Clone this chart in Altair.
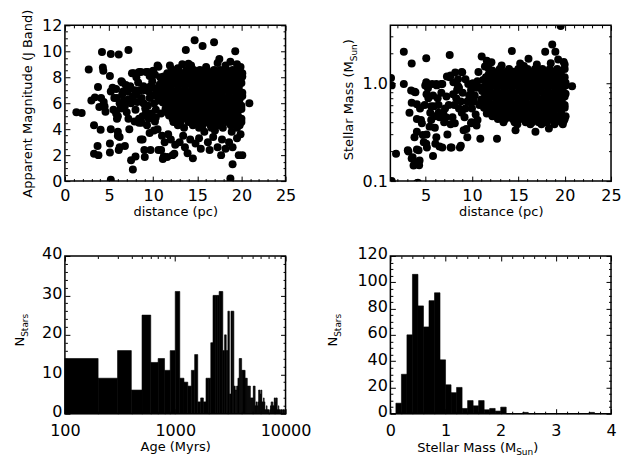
import altair as alt
import pandas as pd

FONT = "DejaVu Sans"

# ---------------- data ----------------
# Top-left: distance (pc) vs apparent J magnitude
tl_sparse = [
    (1.3, 5.3), (1.9, 5.25), (2.7, 8.6), (3.0, 6.2), (3.4, 6.45), (3.3, 4.3), (3.3, 2.1), (3.8, 2.0),
    (3.7, 2.7), (3.75, 7.25), (3.9, 5.7), (4.05, 3.95), (4.2, 9.95), (4.3, 8.75), (4.35, 8.5), (4.4, 6.1),
    (4.6, 5.35), (4.1, 6.4), (4.5, 5.75), (5.1, 8.1), (5.2, 6.9), (5.2, 4.0), (5.1, 2.9), (5.1, 2.2),
    (5.2, 0.1), (5.2, 9.8), (5.4, 7.2), (5.6, 6.4), (5.8, 5.2), (5.9, 6.4), (5.9, 4.8), (6.0, 3.5),
    (6.0, 3.8), (6.1, 2.4), (6.1, 9.75), (6.2, 3.4), (6.2, 2.6), (6.3, 5.6), (6.4, 7.7), (6.5, 7.6),
    (6.6, 6.9), (6.8, 5.8), (6.8, 2.7), (7.1, 6.9), (7.2, 4.8), (7.2, 10.1), (7.3, 4.0), (7.5, 1.6),
    (7.6, 8.3), (7.7, 0.9), (7.8, 8.3), (8.0, 1.9), (8.1, 6.7), (8.2, 6.1), (8.4, 4.5), (8.4, 8.4),
    (8.4, 4.8), (8.6, 8.4), (8.6, 3.2), (8.8, 3.2), (8.9, 7.3), (9.0, 2.4), (9.05, 1.85), (9.2, 5.3),
    (9.2, 8.4), (9.4, 8.4), (9.4, 5.8), (9.5, 6.9), (9.6, 3.7), (9.7, 2.4), (9.9, 7.7), (10.1, 3.9),
    (10.1, 6.0), (10.5, 8.9), (10.6, 2.4), (10.6, 8.8), (10.8, 8.0), (10.9, 2.4), (11.1, 1.7), (11.2, 1.9),
    (11.5, 6.6), (11.6, 1.85), (12.1, 8.6), (12.2, 2.0), (12.4, 2.1), (12.8, 8.7), (13.7, 10.1), (14.0, 9.05),
    (13.9, 2.15), (14.5, 1.75), (14.7, 10.85), (15.6, 10.4), (16.9, 10.7), (15.4, 2.5), (16.4, 2.4), (17.5, 9.4),
    (17.7, 2.0), (18.75, 9.2), (19.0, 1.3), (18.75, 0.2), (19.3, 10.0), (19.7, 2.0), (20.1, 2.0), (19.9, 8.8),
    (20.9, 6.0),
    (5.5, 5.5), (6.0, 5.0), (6.7, 6.2), (7.0, 5.3), (7.4, 7.3), (7.5, 6.0), (7.9, 7.0), (8.0, 5.5),
    (8.3, 7.6), (8.7, 6.4), (8.8, 5.0), (9.0, 7.0), (9.3, 4.3), (9.6, 6.4), (9.8, 5.2), (10.0, 7.2),
    (10.2, 4.6), (10.3, 5.5), (10.4, 6.6), (10.7, 7.4), (10.9, 5.2), (10.5, 4.0), (11.0, 3.5), (11.3, 3.0),
    (11.7, 3.6), (12.0, 3.2), (12.5, 2.8), (13.0, 3.0), (13.4, 3.5), (13.6, 2.6), (14.2, 3.2), (14.8, 2.9),
    (15.2, 3.3), (15.8, 3.8), (16.2, 3.0), (16.8, 3.4), (17.3, 2.6), (17.8, 3.2), (18.2, 2.5), (18.6, 3.0),
    (19.0, 2.6), (19.5, 3.3), (19.9, 3.6), (18.9, 3.8), (17.0, 3.9),
    (11.9, 8.9), (13.3, 9.0), (14.3, 8.9), (16.0, 8.8), (18.2, 8.9), (17.3, 9.1), (19.5, 9.0),
    (8.5, 7.0), (8.9, 6.0), (9.1, 5.6), (9.7, 7.3), (9.9, 6.6), (10.2, 8.2), (10.4, 7.0), (10.6, 6.2),
    (10.3, 4.9), (9.5, 4.8), (8.7, 4.5), (7.9, 4.6), (7.7, 6.5), (7.2, 6.3), (6.9, 7.4), (6.5, 6.7),
    (6.2, 6.0), (5.8, 7.1), (8.1, 8.0), (9.6, 8.1), (10.0, 8.5),
]
tl_row_mag = [8.55, 8.3, 8.05, 7.8, 7.55, 7.3, 7.05, 6.8, 6.55, 6.3, 6.05, 5.8, 5.55, 5.3, 5.05, 4.8,
              4.55, 4.3, 4.1]
tl_row_dist = [
    [12.9, 13.8, 14.6, 15.3, 16.1, 16.9, 17.6, 18.3, 19.0, 19.8],
    [11.6, 12.4, 13.3, 14.1, 14.9, 15.7, 16.5, 17.2, 18.0, 18.7, 19.4, 20.1],
    [11.2, 12.0, 12.7, 13.5, 14.2, 15.0, 15.8, 16.5, 17.3, 18.0, 18.8, 19.6, 20.1],
    [11.0, 11.6, 12.3, 13.1, 13.9, 14.6, 15.4, 16.1, 16.9, 17.7, 18.4, 19.2, 19.9],
    [10.9, 11.7, 12.4, 13.2, 14.0, 14.8, 15.5, 16.3, 17.0, 17.8, 18.5, 19.3, 20.0],
    [11.1, 11.9, 12.8, 13.6, 14.4, 15.2, 15.9, 16.7, 17.4, 18.2, 18.9, 19.7],
    [11.3, 12.0, 12.8, 13.6, 14.4, 15.1, 15.9, 16.7, 17.4, 18.2, 19.0, 19.7],
    [10.9, 11.7, 12.4, 13.2, 14.0, 14.7, 15.5, 16.3, 17.1, 17.8, 18.6, 19.4, 20.1],
    [10.8, 11.6, 12.4, 13.2, 13.9, 14.7, 15.5, 16.2, 17.0, 17.8, 18.6, 19.4, 20.1],
    [11.2, 12.0, 12.8, 13.6, 14.3, 15.1, 15.9, 16.6, 17.4, 18.2, 19.0, 19.8],
    [11.1, 11.9, 12.7, 13.5, 14.3, 15.0, 15.8, 16.6, 17.4, 18.1, 18.9, 19.7],
    [11.5, 12.3, 13.1, 13.9, 14.7, 15.4, 16.2, 17.0, 17.8, 18.5, 19.3, 20.0],
    [11.4, 12.2, 13.0, 13.8, 14.6, 15.4, 16.1, 16.9, 17.7, 18.5, 19.3, 20.0],
    [11.6, 12.4, 13.2, 14.0, 14.8, 15.6, 16.3, 17.1, 17.9, 18.7, 19.5],
    [11.8, 12.6, 13.4, 14.2, 15.0, 15.7, 16.5, 17.3, 18.1, 18.8, 19.6],
    [12.2, 13.0, 13.8, 14.6, 15.4, 16.2, 17.0, 17.8, 18.5, 19.3, 20.0],
    [12.3, 13.1, 14.0, 14.9, 16.0, 16.9, 17.7, 18.4, 19.2, 20.0],
    [12.8, 14.5, 15.6, 16.5, 17.3, 18.8, 19.8],
    [13.5, 15.2, 16.6, 17.9, 19.5],
]

# Top-right: distance (pc) vs stellar mass (M_sun)
tr_sparse = [
    (1.27, 1.13), (1.34, 0.95), (1.34, 0.10), (1.81, 0.19), (2.65, 2.1), (2.65, 0.98), (3.08, 0.206),
    (3.26, 0.50), (3.44, 0.84), (3.5, 1.59), (3.6, 0.175), (3.7, 0.144), (3.8, 0.28), (3.8, 0.82),
    (4.24, 0.206), (4.17, 0.096), (4.35, 0.162), (4.5, 0.42), (4.7, 0.295), (5.07, 1.8), (5.07, 1.02),
    (5.25, 0.89), (5.07, 0.24), (5.43, 0.36), (5.6, 0.58), (5.8, 0.18), (5.98, 0.46), (6.16, 0.98),
    (6.16, 0.28), (6.5, 0.225), (6.7, 0.98), (6.9, 0.50), (7.25, 0.73), (7.35, 0.30), (7.6, 1.94),
    (7.6, 1.15), (7.8, 0.22), (7.97, 0.77), (8.15, 0.39), (8.5, 0.93), (8.7, 0.22), (8.9, 0.5),
    (8.95, 1.29), (9.4, 0.34), (9.6, 0.98), (9.8, 0.64), (9.96, 0.40), (10.5, 0.37), (10.7, 1.3),
    (10.9, 0.27), (11.05, 1.87), (11.4, 1.48), (11.6, 1.7), (11.8, 1.41), (12.1, 1.64), (12.7, 0.27),
    (13.2, 1.52), (14.3, 2.13), (14.7, 0.33), (15.2, 1.59), (16.1, 1.78), (16.85, 0.32), (17.9, 2.1),
    (18.3, 0.345), (18.66, 2.49), (19.0, 2.1), (19.57, 3.85), (19.9, 0.41), (19.9, 1.65), (20.8, 0.93),
    (3.5, 0.63), (4.06, 0.61), (3.9, 0.81), (4.96, 0.95), (5.1, 0.77), (5.7, 0.98), (6.2, 0.95),
    (6.8, 0.98), (7.3, 1.17), (7.7, 1.2), (8.2, 1.29), (8.9, 1.3), (8.0, 1.02), (8.6, 0.9),
    (5.5, 0.5), (5.9, 0.58), (6.4, 0.6), (7.1, 0.55), (4.06, 0.43), (4.6, 0.39), (4.06, 0.32),
    (5.1, 0.3), (4.8, 0.25), (5.14, 0.22), (6.05, 0.24), (6.8, 0.22), (7.7, 0.22), (8.8, 0.23),
    (9.5, 0.28), (9.1, 0.33), (9.9, 0.39), (10.6, 0.42), (3.15, 0.2), (4.06, 0.21), (3.5, 0.17),
    (3.9, 0.155), (4.3, 0.145), (4.06, 0.095),
    (7.5, 0.6), (7.9, 0.45), (8.3, 0.7), (8.6, 0.55), (9.0, 0.8), (9.2, 0.45), (9.5, 0.65),
    (9.9, 0.85), (10.0, 0.55), (10.3, 0.75), (10.4, 0.48), (10.8, 0.6), (10.9, 0.9), (10.6, 1.05),
    (6.7, 0.8), (7.0, 0.4), (6.3, 0.7), (5.8, 0.75), (4.9, 0.6), (5.3, 0.7), (4.4, 0.55),
    (13.0, 1.4), (12.2, 1.35), (18.5, 1.6), (19.3, 1.75), (17.0, 1.55), (15.6, 1.5), (20.0, 1.55),
    (7.2, 0.45), (7.7, 0.38), (8.1, 0.6), (8.4, 0.85), (8.8, 0.65), (9.3, 0.55), (9.7, 0.75),
    (10.2, 0.65), (10.5, 0.9), (10.1, 1.0), (9.3, 1.1), (8.5, 1.1), (6.5, 0.45), (6.0, 0.35),
    (5.6, 0.42), (6.4, 0.5),
]
tr_row_mass = [1.40, 1.31, 1.23, 1.15, 1.08, 1.01, 0.95, 0.89, 0.83, 0.78, 0.73, 0.68, 0.64, 0.60,
               0.56, 0.52, 0.49, 0.46, 0.43, 0.40, 0.38]
tr_row_dist = [
    [14.0, 15.0, 16.0, 16.8, 17.6, 18.4, 19.2, 20.0],
    [12.9, 13.7, 14.5, 15.4, 16.2, 17.0, 17.9, 18.7, 19.5],
    [11.8, 12.6, 13.4, 14.2, 15.0, 15.8, 16.5, 17.3, 18.0, 18.8, 19.6],
    [11.5, 12.3, 13.0, 13.8, 14.6, 15.4, 16.1, 16.9, 17.7, 18.4, 19.2, 20.0],
    [11.2, 12.0, 12.8, 13.6, 14.4, 15.2, 15.9, 16.7, 17.5, 18.3, 19.0, 19.8],
    [11.6, 12.4, 13.2, 14.0, 14.8, 15.6, 16.3, 17.1, 17.9, 18.7, 19.4, 20.1],
    [11.5, 12.3, 13.1, 13.9, 14.7, 15.5, 16.3, 17.0, 17.8, 18.6, 19.4, 20.1],
    [11.1, 11.9, 12.7, 13.5, 14.3, 15.1, 15.9, 16.6, 17.4, 18.2, 19.0, 19.8],
    [11.1, 11.9, 12.7, 13.5, 14.3, 15.1, 15.9, 16.7, 17.4, 18.2, 19.0, 19.7],
    [11.5, 12.3, 13.1, 13.9, 14.7, 15.5, 16.3, 17.0, 17.8, 18.6, 19.3, 20.1],
    [11.4, 12.2, 13.0, 13.8, 14.6, 15.4, 16.2, 17.0, 17.8, 18.5, 19.3, 20.0],
    [11.0, 11.8, 12.6, 13.4, 14.2, 15.0, 15.8, 16.6, 17.4, 18.1, 18.9, 19.7],
    [11.0, 11.8, 12.6, 13.4, 14.2, 15.0, 15.8, 16.6, 17.3, 18.1, 18.9, 19.6],
    [11.4, 12.2, 13.0, 13.8, 14.6, 15.4, 16.2, 17.0, 17.7, 18.5, 19.3, 20.0],
    [11.3, 12.1, 12.9, 13.7, 14.5, 15.3, 16.1, 16.9, 17.7, 18.4, 19.2, 20.0],
    [11.7, 12.5, 13.3, 14.1, 14.9, 15.7, 16.5, 17.3, 18.1, 18.8, 19.6],
    [11.6, 12.4, 13.2, 14.0, 14.8, 15.6, 16.4, 17.2, 18.0, 18.8, 19.6],
    [12.2, 13.0, 13.8, 14.6, 15.4, 16.2, 17.0, 17.8, 18.6, 19.4, 20.1],
    [12.8, 13.6, 14.4, 15.2, 16.0, 16.8, 17.6, 18.4, 19.2, 20.0],
    [13.4, 14.6, 15.8, 16.5, 17.2, 18.1, 19.0, 19.7],
    [14.9, 16.3, 17.5, 18.9, 19.8],
]

# Bottom-left: age histogram, 100 Myr bins from 100 to 10000 Myr
age_bin_width = 100
age_bin_start = list(range(100, 10000, age_bin_width))
age_counts = [
    14, 9, 16, 6, 25, 13, 14, 11, 16, 31,
    9, 8, 7, 11, 15, 3, 4, 3, 9, 9,
    18, 30, 30, 30, 31, 31, 16, 20, 16, 26,
    5, 26, 26, 7, 6, 7, 9, 14, 14, 11,
    11, 11, 9, 9, 7, 7, 7, 4, 4, 4,
    7, 7, 2, 3, 2, 3, 6, 6, 5, 6,
    3, 3, 4, 3, 1, 1, 2, 1, 1, 1,
    0, 1, 2, 3, 2, 3, 2, 2, 4, 4,
    3, 4, 4, 1, 1, 2, 1, 1, 0, 1,
    1, 1, 0, 1, 1, 1, 0, 1, 1,
]

# Bottom-right: stellar mass histogram, 0.1 M_sun bins from 0 to 4
mass_bin_width = 0.1
mass_bin_start = [round(i * mass_bin_width, 1) for i in range(40)]
mass_counts = [
    0, 8, 30, 60, 106, 82, 66, 86, 92, 41,
    22, 16, 20, 4, 10, 6, 10, 3, 4, 2,
    5, 0, 0, 0, 1, 0, 0, 0, 0, 0,
    0, 0, 0, 0, 0, 0, 1, 0, 0, 0,
]

# tick values
tl_x_major = [0, 5, 10, 15, 20, 25]
tl_y_major = [0, 2, 4, 6, 8, 10, 12]
tr_x_major = [5, 10, 15, 20, 25]
tr_y_major = [0.1, 1.0]
bl_x_major = [100, 1000, 10000]
bl_y_major = [0, 10, 20, 30, 40]
br_x_major = [0, 1, 2, 3, 4]
br_y_major = [0, 20, 40, 60, 80, 100, 120]

tl_x_minor = [v for v in range(0, 26) if v % 5]
tl_y_minor = [v / 2 for v in range(0, 25) if v % 4]
tr_x_minor = [v for v in range(2, 26) if v % 5]
tr_y_minor = [0.2, 0.3, 0.4, 0.5, 0.6, 0.7, 0.8, 0.9, 2.0, 3.0]
bl_x_minor = [m * 10 ** e for e in (2, 3) for m in range(2, 10)]
bl_y_minor = [v for v in range(0, 41, 2) if v % 10]
br_x_minor = [v / 5 for v in range(0, 21) if v % 5]
br_y_minor = [v for v in range(0, 121, 5) if v % 20]

# ---------------- build tables ----------------
tl_pts = list(tl_sparse)
for yv, row in zip(tl_row_mag, tl_row_dist):
    tl_pts += [(xv, yv) for xv in row]
tl_df = pd.DataFrame(tl_pts, columns=["dist", "val"])

tr_pts = list(tr_sparse)
for yv, row in zip(tr_row_mass, tr_row_dist):
    tr_pts += [(xv, yv) for xv in row]
tr_df = pd.DataFrame(tr_pts, columns=["dist", "val"])

age_df = pd.DataFrame({"lo": age_bin_start,
                       "hi": [a + age_bin_width for a in age_bin_start],
                       "n": age_counts})
mass_df = pd.DataFrame({"lo": mass_bin_start,
                        "hi": [round(m + mass_bin_width, 1) for m in mass_bin_start],
                        "n": mass_counts})

one = pd.DataFrame({"k": [0]})

MAJ = 5
MIN = 2.5
LBL = 16


def axis(orient, values, size, labels=False, fmt=None, pad=3, title=None, title_pad=4,
         label_offset=0):
    kw = dict(orient=orient, values=values, tickSize=size, offset=-size, domain=False,
              grid=False, ticks=True, tickColor="black", tickWidth=1, labels=labels,
              title=title)
    if labels:
        kw.update(labelFont=FONT, labelFontSize=LBL, labelColor="black", labelPadding=pad,
                  labelFlush=False, labelOverlap=False, labelOffset=label_offset)
        if fmt:
            kw["format"] = fmt
    if title:
        kw.update(titleFont=FONT, titleFontSize=13, titleFontWeight="normal",
                  titleColor="black", titlePadding=title_pad)
    return alt.Axis(**kw)


def guide_layers(df, xs, ys, xmaj, xmin, ymaj, ymin):
    base = alt.Chart(df).mark_point(opacity=0)
    xf = "lo:Q" if "lo" in df.columns else "dist:Q"
    yf = "n:Q" if "n" in df.columns else "val:Q"
    out = []
    for xo, yo, xv, yv, sz in [("top", "right", xmaj, ymaj, MAJ),
                               ("bottom", "left", xmin, ymin, MIN),
                               ("top", "right", xmin, ymin, MIN)]:
        out.append(base.encode(
            x=alt.X(xf, scale=xs, axis=axis(xo, xv, sz)),
            y=alt.Y(yf, scale=ys, axis=axis(yo, yv, sz)),
        ))
    return out


def txt(text, x, y, size, angle=0, align="left"):
    return alt.Chart(one).mark_text(
        text=text, font=FONT, fontSize=size, angle=angle, align=align,
        baseline="alphabetic", color="black"
    ).encode(x=alt.value(x), y=alt.value(y))


W = 221
HT = 156
HB = 158

# ---- top-left ----
tl_xs = alt.Scale(domain=[0, 25], nice=False, zero=False)
tl_ys = alt.Scale(domain=[0, 12], nice=False, zero=False)
tl_main = alt.Chart(tl_df).mark_circle(size=64, color="black", opacity=1, clip=True).encode(
    x=alt.X("dist:Q", scale=tl_xs,
            axis=axis("bottom", tl_x_major, MAJ, labels=True, fmt="d", pad=6,
                      title="distance (pc)", title_pad=2)),
    y=alt.Y("val:Q", scale=tl_ys,
            axis=axis("left", tl_y_major, MAJ, labels=True, fmt="d", pad=3,
                      title="Apparent Magnitude (J Band)", title_pad=7)),
)
tl = alt.layer(tl_main, *guide_layers(tl_df, tl_xs, tl_ys, tl_x_major, tl_x_minor,
                                      tl_y_major, tl_y_minor)
               ).resolve_axis(x="independent", y="independent").properties(width=W, height=HT)

# ---- top-right ----
tr_xs = alt.Scale(domain=[1.2, 25], nice=False, zero=False)
tr_ys = alt.Scale(type="log", domain=[0.1, 3.9], nice=False)
tr_main = alt.Chart(tr_df).mark_circle(size=64, color="black", opacity=1, clip=True).encode(
    x=alt.X("dist:Q", scale=tr_xs,
            axis=axis("bottom", tr_x_major, MAJ, labels=True, fmt="d", pad=6,
                      title="distance (pc)", title_pad=2)),
    y=alt.Y("val:Q", scale=tr_ys,
            axis=axis("left", tr_y_major, MAJ, labels=True, fmt=".1f", pad=3)),
)
tr = alt.layer(
    tr_main,
    *guide_layers(tr_df, tr_xs, tr_ys, tr_x_major, tr_x_minor, tr_y_major, tr_y_minor),
    txt("Stellar Mass (M", -37, 36, 13, angle=270, align="right"),
    txt("Sun", -33, 36, 9, angle=270, align="left"),
    txt(")", -37, 19, 13, angle=270, align="left"),
).resolve_axis(x="independent", y="independent").properties(width=W, height=HT)

# ---- bottom-left ----
bl_xs = alt.Scale(type="log", domain=[100, 10000], nice=False)
bl_ys = alt.Scale(domain=[0, 40], nice=False, zero=False)
bl_main = alt.Chart(age_df).mark_rect(color="black", stroke="black", strokeWidth=0.6).encode(
    x=alt.X("lo:Q", scale=bl_xs,
            axis=axis("bottom", bl_x_major, MAJ, labels=True, fmt="d", pad=9,
                      title="Age (Myrs)", title_pad=2)),
    x2="hi:Q",
    y=alt.Y("n:Q", scale=bl_ys,
            axis=axis("left", bl_y_major, MAJ, labels=True, fmt="d", pad=3, label_offset=-2)),
    y2=alt.datum(0),
)
bl = alt.layer(
    bl_main,
    *guide_layers(age_df, bl_xs, bl_ys, bl_x_major, bl_x_minor, bl_y_major, bl_y_minor),
    txt("N", -41, 81, 13, angle=270, align="right"),
    txt("Stars", -37, 81, 9, angle=270, align="left"),
).resolve_axis(x="independent", y="independent").properties(width=W, height=HB)

# ---- bottom-right ----
br_xs = alt.Scale(domain=[0, 4], nice=False, zero=False)
br_ys = alt.Scale(domain=[0, 120], nice=False, zero=False)
br_main = alt.Chart(mass_df).mark_rect(color="black", stroke="black", strokeWidth=0.6).encode(
    x=alt.X("lo:Q", scale=br_xs,
            axis=axis("bottom", br_x_major, MAJ, labels=True, fmt="d", pad=9)),
    x2="hi:Q",
    y=alt.Y("n:Q", scale=br_ys,
            axis=axis("left", br_y_major, MAJ, labels=True, fmt="d", pad=3, label_offset=-2)),
    y2=alt.datum(0),
)
br = alt.layer(
    br_main,
    *guide_layers(mass_df, br_xs, br_ys, br_x_major, br_x_minor, br_y_major, br_y_minor),
    txt("N", -53, 81, 13, angle=270, align="right"),
    txt("Stars", -49, 81, 9, angle=270, align="left"),
    txt("Stellar Mass (M", 126, 196, 13, align="right"),
    txt("Sun", 126, 199.5, 9, align="left"),
    txt(")", 143, 196, 13, align="left"),
).resolve_axis(x="independent", y="independent").properties(width=W, height=HB)

chart = alt.concat(
    tl, tr, bl, br, columns=2, spacing={"row": 75, "column": 105}, bounds="flush"
).properties(
    padding={"left": 5, "top": 0, "right": 2, "bottom": 2},
    background="white",
).configure(font=FONT).configure_view(stroke="black", strokeWidth=1.5)

chart.save("out.html", embed_options={"renderer": "svg", "actions": False})
